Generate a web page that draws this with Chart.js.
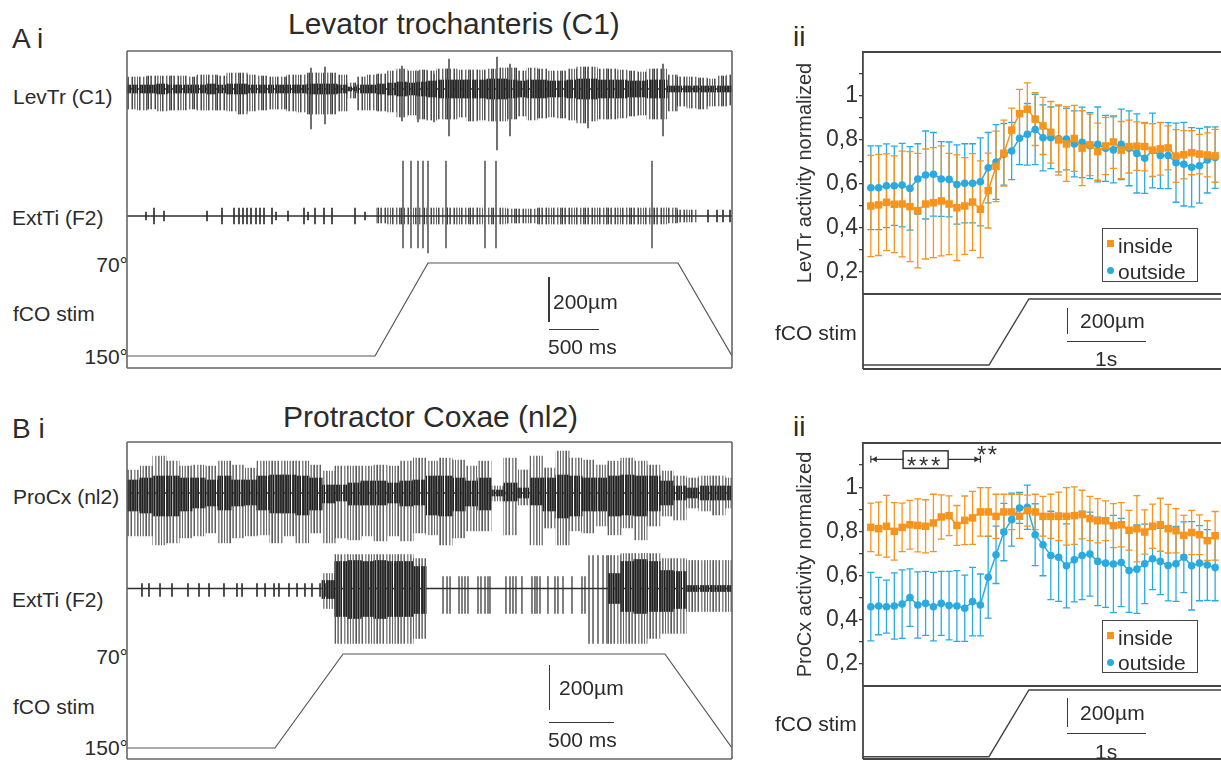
<!DOCTYPE html>
<html>
<head>
<meta charset="utf-8">
<script src="https://cdn.jsdelivr.net/npm/chart.js@4.4.1/dist/chart.umd.min.js"></script>
<style>
  body { margin: 0; width: 1221px; height: 760px; overflow: hidden; background: #fff; position: relative;
         font-family: "Liberation Sans", Arial, sans-serif; color: #2b2b2b; }
  .t { position: absolute; line-height: 1; white-space: nowrap; font-size: 21px; }
  .r { text-align: right; }
  .big { font-size: 28px; }
  .ttl { font-size: 30px; }
  .cv { position: absolute; }
  .sb { position: absolute; background: #3a3a3a; }
  .lg { position: absolute; border: 1.5px solid #444; box-sizing: border-box; }
  .mk { position: absolute; width: 7px; height: 7px; }
  .star { position: absolute; line-height: 1; font-size: 24px; color: #333; }
</style>
</head>
<body>

<!-- panel A -->
<div class="t big" style="left:12px;top:25px">A i</div>
<div class="t ttl" style="left:288px;top:9px">Levator trochanteris (C1)</div>
<div class="t" style="left:13px;top:86px">LevTr (C1)</div>
<div class="t" style="left:12px;top:207px">ExtTi (F2)</div>
<div class="t r" style="right:1093px;top:254px">70°</div>
<div class="t" style="left:13px;top:303px">fCO stim</div>
<div class="t r" style="right:1093px;top:346px">150°</div>
<canvas id="cA" class="cv" width="609" height="321" style="left:125px;top:49px"></canvas>
<div class="sb" style="left:548px;top:277px;width:1.5px;height:45px"></div>
<div class="t" style="left:553px;top:291px">200µm</div>
<div class="sb" style="left:549px;top:328.5px;width:50px;height:1.3px"></div>
<div class="t" style="left:548px;top:336px">500 ms</div>

<div class="t big" style="left:793px;top:23px">ii</div>
<canvas id="cA2" class="cv" width="461" height="252" style="left:760px;top:42px"></canvas>
<canvas id="cA2s" class="cv" width="362" height="79" style="left:861px;top:292px"></canvas>
<div class="t" style="left:775px;top:322px">fCO stim</div>
<div class="sb" style="left:1066.5px;top:308px;width:1.5px;height:26px"></div>
<div class="t" style="left:1080px;top:310px">200µm</div>
<div class="sb" style="left:1067px;top:340.5px;width:79px;height:1.3px"></div>
<div class="t" style="left:1095px;top:348px">1s</div>
<div class="lg" style="left:1101.5px;top:228px;width:96px;height:54px"></div>
<div class="mk" style="left:1107px;top:240px;background:#f7941d"></div>
<div class="t" style="left:1118px;top:235px">inside</div>
<div class="mk" style="left:1107px;top:266.5px;background:#29abe2;border-radius:50%"></div>
<div class="t" style="left:1118px;top:261px">outside</div>

<!-- panel B -->
<div class="t big" style="left:12px;top:415px">B i</div>
<div class="t ttl" style="left:283px;top:402px">Protractor Coxae (nl2)</div>
<div class="t" style="left:13px;top:486px">ProCx (nl2)</div>
<div class="t" style="left:12px;top:589px">ExtTi (F2)</div>
<div class="t r" style="right:1093px;top:646px">70°</div>
<div class="t" style="left:13px;top:696px">fCO stim</div>
<div class="t r" style="right:1093px;top:737px">150°</div>
<canvas id="cB" class="cv" width="609" height="321" style="left:125px;top:440px"></canvas>
<div class="sb" style="left:548.5px;top:665px;width:1.5px;height:45px"></div>
<div class="t" style="left:559px;top:677px">200µm</div>
<div class="sb" style="left:549px;top:721.5px;width:65px;height:1.3px"></div>
<div class="t" style="left:548px;top:729px">500 ms</div>

<div class="t big" style="left:793px;top:413px">ii</div>
<canvas id="cB2" class="cv" width="461" height="253" style="left:760px;top:433px"></canvas>
<canvas id="cB2s" class="cv" width="362" height="77" style="left:861px;top:684px"></canvas>
<div class="t" style="left:775px;top:713px">fCO stim</div>
<div class="sb" style="left:1066.5px;top:698px;width:1.5px;height:29px"></div>
<div class="t" style="left:1080px;top:702px">200µm</div>
<div class="sb" style="left:1067px;top:732.5px;width:79px;height:1.3px"></div>
<div class="t" style="left:1095px;top:741px">1s</div>
<div class="lg" style="left:1101.5px;top:620px;width:96px;height:53px"></div>
<div class="mk" style="left:1107px;top:632px;background:#f7941d"></div>
<div class="t" style="left:1118px;top:627px">inside</div>
<div class="mk" style="left:1107px;top:659px;background:#29abe2;border-radius:50%"></div>
<div class="t" style="left:1118px;top:652px">outside</div>
<div class="star" style="left:907px;top:454px;letter-spacing:2.7px">***</div>
<div class="star" style="left:977px;top:443px;letter-spacing:1.5px">**</div>

<script>
const FONT = '"Liberation Sans", Arial, sans-serif';
const ORANGE = '#f7941d';
const BLUE = '#29abe2';
Chart.defaults.font.family = FONT;

// ---------- recordings (i panels), 100 ms bins, amplitudes in trace units ----------
const binMs = 100;
const spanA = 6050;
const spanB = 4654;

const levTrUp = [12,12,13,13,13,13,12,14,14,13, 16,16,14,13,12,12,14,14,16,16, 16,14,6,12,14,15,18,20,18,19,
                 18,20,20,19,19,19,20,21,21,18, 21,20,18,18,20,22,22,20,20,19, 18,17,20,20,14,12,12,11,10,13, 14];
const levTrDown = [20,21,20,22,21,21,20,21,21,21, 22,25,22,21,20,20,22,23,25,25, 25,22,9,21,21,22,23,28,26,30,
                   31,30,30,28,32,31,32,32,30,27, 31,29,28,29,31,34,32,30,30,29, 27,26,30,30,22,17,19,20,17,17, 16];
const levTrCore = [4,4,4,5,4,4,4,4,5,4, 5,5,4,4,4,4,4,4,5,5, 5,4,2,4,4,5,6,7,6,7,
                   8,9,9,9,9,9,10,10,9,8, 9,9,8,8,9,10,10,9,9,9, 8,8,9,9,3,3,3,3,3,3, 3];
const levTrSpikeMs = [1840, 1980, 2750, 2910, 3070, 3220, 3700, 3830, 4610, 5360];
const levTrSpikeUp = [21, 22, 23, 18, 15, 30, 32, 25, 20, 25];
const levTrSpikeDown = [40, 35, 32, 33, 33, 47, 61, 47, 39, 47];

const extAUp = [0,0,0,0,0,0,0,0,0,0, 0,0,0,0,0,0,0,0,0,0, 0,0,0,0,0,8,8,8,8,8,
                8,8,8,8,8,8,8,8,7,7, 7,8,8,8,8,8,8,8,8,8, 8,8,8,8,8,6,6,0,0,0, 0];
const extADown = [0,0,0,0,0,0,0,0,0,0, 0,0,0,0,0,0,0,0,0,0, 0,0,0,0,0,7,8,8,8,8,
                  8,8,8,8,8,8,8,8,7,7, 7,8,8,8,8,8,8,8,8,8, 8,8,8,8,7,6,6,0,0,0, 0];
const extASmallMs = [190,270,370,800,950,1070,1120,1160,1200,1240,1290,1330,1370,1450,
                     1490,1610,1770,1810,1880,1970,2050,2280,2380,5810,5900,5960,6030];
const extASmallAmp = [4,8,5,5,8,8,8,8,8,8,8,8,8,8,4,5,8,4,8,8,8,8,4,6,6,6,6];
const extABigMs = [2760, 2840, 2910, 2960, 3010, 3190, 3580, 3690, 5250];
const extABigUp = [55, 55, 55, 55, 55, 55, 55, 55, 55];
const extABigDown = [32, 32, 32, 32, 37, 32, 32, 32, 32];

const proCxUp = [23,27,37,32,27,28,27,32,28,25, 32,32,32,32,28,22,27,27,27,28, 27,32,35,32,35,33,27,32,7,35,
                 23,37,25,42,35,33,28,32,35,32, 28,22,17,15,17,17,15];
const proCxDown = [43,43,52,50,45,43,40,50,45,43, 42,50,43,50,40,50,45,47,43,48, 43,48,40,42,52,45,38,38,8,42,
                   12,52,35,52,38,40,33,42,35,47, 33,23,27,15,18,22,15];
const proCxCoreUp = [13,15,17,17,15,15,13,17,13,13, 17,18,18,17,15,8,8,10,12,12, 10,12,13,17,17,15,12,15,3,10,
                     5,15,15,18,17,15,15,17,18,17, 17,12,7,5,7,7,7];
const proCxCoreDown = [18,20,23,23,18,15,13,17,13,12, 17,20,20,22,17,10,8,12,12,12, 10,13,12,22,23,18,13,17,3,8,
                       5,12,18,25,23,18,18,23,22,23, 18,12,7,5,7,7,7];

const extBUp = [0,0,0,0,0,0,0,0,0,0, 0,0,0,0,0,15,34,34,34,34, 34,34,30,0,0,0,0,0,0,0,
                0,0,0,0,0,0,0,33,35,35, 35,30,30,28,28,28,28];
const extBDown = [0,0,0,0,0,0,0,0,0,0, 0,0,0,0,0,20,55,55,55,55, 55,55,50,0,0,0,0,0,0,0,
                  0,0,0,0,0,0,0,55,55,55, 50,45,45,23,23,23,23];
const extBCoreUp = [0,0,0,0,0,0,0,0,0,0, 0,0,0,0,0,8,27,28,27,28, 27,27,22,0,0,0,0,0,0,0,
                    0,0,0,0,0,0,0,15,27,29, 27,18,17,3,3,3,3];
const extBCoreDown = [0,0,0,0,0,0,0,0,0,0, 0,0,0,0,0,10,28,30,28,30, 28,28,25,0,0,0,0,0,0,0,
                      0,0,0,0,0,0,0,15,23,25, 23,23,20,3,3,3,3];
const extBTickMs = [115,169,254,346,469,554,631,746,846,885,1000,1062,1131,1169,1246,1308,1369,1423,1485,1531];
const extBSparseMs = [2431,2462,2485,2554,2577,2600,2623,2700,2723,2754,2777,2792,2915,2946,
                      2969,2992,3038,3115,3138,3154,3177,3238,3292,3315,3354,3423,3500,3523];
const extBTallMs = [3554, 3585, 3623, 3662, 3692, 3723];

// fCO stimulus (ms, degrees)
const stimMsA = [0, 2480, 3010, 5510, 6050];
const stimMsB = [0, 1138, 1662, 4138, 4654];
const stimDeg = [150, 150, 70, 70, 150];

// ---------- normalized activity (ii panels) ----------
const binSec = [0.1,0.2,0.3,0.4,0.5,0.6,0.7,0.8,0.9,1.0,1.1,1.2,1.3,1.4,1.5,1.6,1.7,1.8,1.9,2.0,2.1,2.2,2.3,
                2.4,2.5,2.6,2.7,2.8,2.9,3.0,3.1,3.2,3.3,3.4,3.5,3.6,3.7,3.8,3.9,4.0,4.1,4.2,4.3,4.4,4.5];
const levInside = [0.50,0.505,0.517,0.508,0.509,0.497,0.479,0.509,0.515,0.523, 0.509,0.492,0.50,0.518,0.485,0.57,0.68,0.74,0.845,0.92,
                   0.94,0.895,0.864,0.835,0.80,0.782,0.807,0.763,0.778,0.747, 0.773,0.791,0.754,0.77,0.772,0.77,0.754,0.76,0.764,0.727,
                   0.733,0.742,0.736,0.732,0.728];
const levInsideErr = [0.23,0.23,0.22,0.22,0.24,0.25,0.26,0.25,0.25,0.25, 0.23,0.24,0.22,0.22,0.22,0.17,0.16,0.15,0.10,0.11,
                      0.12,0.12,0.13,0.14,0.16,0.17,0.15,0.17,0.14,0.13, 0.13,0.12,0.13,0.12,0.11,0.11,0.12,0.12,0.10,0.12,
                      0.11,0.10,0.09,0.10,0.12];
const levOutside = [0.583,0.583,0.592,0.592,0.595,0.58,0.623,0.641,0.644,0.623, 0.621,0.598,0.603,0.603,0.61,0.674,0.70,0.735,0.75,0.808,
                    0.826,0.848,0.81,0.81,0.805,0.804,0.782,0.789,0.774,0.78, 0.762,0.755,0.78,0.762,0.739,0.717,0.752,0.729,0.729,0.697,
                    0.69,0.676,0.683,0.709,0.72];
const levOutsideErr = [0.19,0.19,0.19,0.18,0.19,0.19,0.16,0.20,0.19,0.17, 0.17,0.18,0.18,0.18,0.20,0.16,0.17,0.14,0.13,0.12,
                       0.14,0.16,0.15,0.14,0.15,0.14,0.15,0.16,0.15,0.17, 0.15,0.15,0.16,0.17,0.18,0.16,0.17,0.15,0.15,0.18,
                       0.19,0.18,0.17,0.15,0.14];
const proInside = [0.818,0.812,0.823,0.80,0.818,0.83,0.827,0.823,0.838,0.865, 0.871,0.827,0.85,0.861,0.888,0.888,0.868,0.888,0.888,0.868,
                   0.894,0.888,0.868,0.868,0.868,0.868,0.871,0.876,0.858,0.848, 0.848,0.826,0.83,0.805,0.812,0.797,0.823,0.83,0.812,0.803,
                   0.782,0.795,0.785,0.758,0.78];
const proInsideErr = [0.11,0.12,0.14,0.13,0.11,0.11,0.12,0.12,0.13,0.10, 0.09,0.09,0.11,0.12,0.11,0.11,0.10,0.08,0.08,0.10,
                      0.07,0.08,0.09,0.10,0.11,0.13,0.13,0.11,0.10,0.10, 0.09,0.10,0.10,0.09,0.15,0.10,0.10,0.12,0.11,0.10,
                      0.09,0.10,0.09,0.09,0.11];
const proOutside = [0.459,0.462,0.459,0.462,0.471,0.50,0.467,0.474,0.459,0.474, 0.464,0.462,0.452,0.482,0.467,0.592,0.694,0.797,0.853,0.906,
                    0.909,0.785,0.739,0.691,0.683,0.644,0.671,0.691,0.697,0.664, 0.656,0.652,0.659,0.623,0.629,0.653,0.676,0.664,0.645,0.653,
                    0.683,0.644,0.656,0.648,0.636];
const proOutsideErr = [0.155,0.13,0.12,0.15,0.155,0.13,0.15,0.145,0.155,0.145, 0.155,0.16,0.15,0.155,0.14,0.185,0.13,0.13,0.12,0.07,
                       0.10,0.14,0.14,0.20,0.20,0.19,0.19,0.20,0.19,0.20, 0.20,0.22,0.20,0.19,0.20,0.18,0.14,0.15,0.16,0.17,
                       0.16,0.20,0.17,0.16,0.15];
const stimSecII = [0, 1.61, 2.12, 4.575];
const stimDegII = [150, 150, 70, 70];
const sigRangeSec = [0.1, 1.5];

// ---------- plugins ----------
const framePlugin = {
    id: 'frame',
    afterDraw(chart, args, opts) {
        if (!opts.sides) return;
        const a = chart.chartArea, ctx = chart.ctx;
        ctx.save();
        ctx.strokeStyle = opts.color;
        ctx.lineWidth = opts.width;
        ctx.beginPath();
        if (opts.sides.includes('top')) { ctx.moveTo(a.left, a.top); ctx.lineTo(a.right, a.top); }
        if (opts.sides.includes('bottom')) { ctx.moveTo(a.left, a.bottom); ctx.lineTo(a.right, a.bottom); }
        if (opts.sides.includes('left')) { ctx.moveTo(a.left, a.top); ctx.lineTo(a.left, a.bottom); }
        if (opts.sides.includes('right')) { ctx.moveTo(a.right, a.top); ctx.lineTo(a.right, a.bottom); }
        ctx.stroke();
        ctx.restore();
    }
};

const errorBarPlugin = {
    id: 'errbars',
    beforeDatasetsDraw(chart) {
        const ctx = chart.ctx, xs = chart.scales.x, ys = chart.scales.y;
        for (let i = chart.data.datasets.length - 1; i >= 0; i--) {
            const ds = chart.data.datasets[i];
            if (!ds.errors) continue;
            ctx.save();
            ctx.strokeStyle = ds.borderColor;
            ctx.lineWidth = 1.3;
            ctx.beginPath();
            ds.data.forEach((p, j) => {
                const x = xs.getPixelForValue(p.x);
                const lo = ys.getPixelForValue(p.y - ds.errors[j]);
                const hi = ys.getPixelForValue(p.y + ds.errors[j]);
                ctx.moveTo(x, lo); ctx.lineTo(x, hi);
                ctx.moveTo(x - 3.5, lo); ctx.lineTo(x + 3.5, lo);
                ctx.moveTo(x - 3.5, hi); ctx.lineTo(x + 3.5, hi);
            });
            ctx.stroke();
            ctx.restore();
        }
    }
};

const sigPlugin = {
    id: 'sig',
    afterDatasetsDraw(chart, args, o) {
        if (!o.range) return;
        const ctx = chart.ctx, xs = chart.scales.x, ys = chart.scales.y;
        const x1 = xs.getPixelForValue(o.range[0]), x2 = xs.getPixelForValue(o.range[1]);
        const y = ys.getPixelForValue(o.level);
        ctx.save();
        ctx.strokeStyle = '#333';
        ctx.fillStyle = '#333';
        ctx.lineWidth = 1.2;
        ctx.beginPath();
        ctx.moveTo(x1, y); ctx.lineTo(x2, y);
        ctx.moveTo(x1, y - 3.5); ctx.lineTo(x1, y + 3.5);
        ctx.moveTo(x2, y - 3.5); ctx.lineTo(x2, y + 3.5);
        ctx.stroke();
        ctx.beginPath();
        ctx.moveTo(x1 + 1, y); ctx.lineTo(x1 + 6, y - 3); ctx.lineTo(x1 + 6, y + 3); ctx.closePath();
        ctx.moveTo(x2 - 1, y); ctx.lineTo(x2 - 6, y - 3); ctx.lineTo(x2 - 6, y + 3); ctx.closePath();
        ctx.fill();
        const mid = (x1 + x2) / 2;
        ctx.fillStyle = '#fff';
        ctx.fillRect(mid - 22.5, y - 8.5, 45, 17.5);
        ctx.lineWidth = 1.5;
        ctx.strokeRect(mid - 22.5, y - 8.5, 45, 17.5);
        ctx.restore();
    }
};

Chart.register(framePlugin, errorBarPlugin, sigPlugin);

// ---------- helpers ----------
// irregular stripe tiles give the filled envelopes a spiky texture
const fringeTile = ['#3c3c3c', null, '#8c8c8c', '#5a5a5a', null, null, '#a0a0a0', '#4a4a4a', null, '#787878', '#b0b0b0', null,
                    '#646464', null, '#4e4e4e', '#9a9a9a', null, null, '#6a6a6a', '#c0c0c0', null, '#555555', '#888888'];
const lightTile = ['#5a5a5a', null, '#9a9a9a', '#7a7a7a', null, '#b0b0b0', '#606060', null, null, '#8a8a8a', '#c0c0c0', null,
                   '#707070', '#a4a4a4', null, '#666666', null, '#b8b8b8', '#7e7e7e', null, '#949494'];
const coreTile = ['#1e1e1e', '#5e5e5e', '#2c2c2c', '#3a3a3a', '#444444', '#202020', null, '#333333', '#262626', '#505050',
                  '#2a2a2a', '#6a6a6a', '#1a1a1a', null, '#3e3e3e', '#242424', '#585858'];

function pattern(ctx, tile) {
    const c = document.createElement('canvas');
    c.width = tile.length;
    c.height = 1;
    const g = c.getContext('2d');
    tile.forEach((col, i) => {
        if (col) { g.fillStyle = col; g.fillRect(i, 0, 1, 1); }
    });
    return ctx.createPattern(c, 'repeat');
}

function envelope(up, down, off) {
    const out = [];
    up.forEach((u, i) => {
        const d = down[i];
        if (u || d) out.push({ x: i * binMs + binMs / 2, y: [off - d, off + u] });
    });
    return out;
}

function spikeBars(ms, up, down, off) {
    return ms.map((t, i) => {
        const u = Array.isArray(up) ? up[i] : up;
        const d = Array.isArray(down) ? down[i] : down;
        return { x: t, y: [off - d, off + u] };
    });
}

// reversed degree axis so 70° and 150° land on the wanted rows of the box
function stimRange(pxHigh, pxLow, h) {
    const k = 80 / (pxLow - pxHigh);
    return { min: 70 - pxHigh * k, max: 70 + (h - pxHigh) * k };
}

function tracePanel(id, span, traces, stimMs, stimRows) {
    const canvas = document.getElementById(id);
    const ctx = canvas.getContext('2d');
    const w = canvas.width - 4, h = canvas.height - 4;
    const binPx = w * binMs / span + 0.4;
    const datasets = [];
    traces.forEach(tr => {
        datasets.push({
            type: 'bar', data: envelope(tr.up, tr.down, tr.off), backgroundColor: pattern(ctx, tr.tile),
            barThickness: binPx, grouped: false, borderWidth: 0, order: 4
        });
        tr.spikes.forEach(s => datasets.push({
            type: 'bar', data: spikeBars(s.ms, s.up, s.down, tr.off), backgroundColor: s.color,
            barThickness: 1.2, grouped: false, borderWidth: 0, order: 3
        }));
        datasets.push({
            type: 'line', data: [{ x: 0, y: tr.off }, { x: span, y: tr.off }], borderColor: '#2e2e2e',
            borderWidth: 1.3, pointRadius: 0, order: 2
        });
        if (tr.coreUp) datasets.push({
            type: 'bar', data: envelope(tr.coreUp, tr.coreDown, tr.off), backgroundColor: pattern(ctx, coreTile),
            barThickness: binPx, grouped: false, borderWidth: 0, order: 1
        });
    });
    datasets.push({
        type: 'line', yAxisID: 'yStim', data: stimMs.map((t, i) => ({ x: t, y: stimDeg[i] })),
        borderColor: '#555', borderWidth: 1.2, pointRadius: 0, order: 0
    });
    const r = stimRange(stimRows[0], stimRows[1], h);
    new Chart(ctx, {
        type: 'bar',
        data: { datasets },
        options: {
            responsive: false,
            animation: false,
            events: [],
            layout: { padding: 2, autoPadding: false },
            plugins: {
                legend: { display: false },
                tooltip: { enabled: false },
                frame: { sides: ['top', 'right', 'bottom', 'left'], color: '#666', width: 1.6 }
            },
            scales: {
                x: { type: 'linear', min: 0, max: span, offset: false, display: false },
                y: { min: 0, max: h, display: false },
                yStim: { min: r.min, max: r.max, reverse: true, display: false }
            }
        }
    });
}

function points(values) {
    return binSec.map((t, i) => ({ x: t, y: values[i] }));
}

function activityPanel(id, inside, inErr, outside, outErr, title, sig) {
    new Chart(document.getElementById(id), {
        type: 'line',
        data: {
            datasets: [
                { label: 'inside', data: points(inside), errors: inErr, borderColor: ORANGE, backgroundColor: ORANGE,
                  borderWidth: 1.5, pointStyle: 'rect', pointRadius: 5.3, pointBorderWidth: 0, order: 0 },
                { label: 'outside', data: points(outside), errors: outErr, borderColor: BLUE, backgroundColor: BLUE,
                  borderWidth: 1.5, pointStyle: 'circle', pointRadius: 3.8, pointBorderWidth: 0, order: 1 }
            ]
        },
        options: {
            responsive: false,
            animation: false,
            events: [],
            layout: { padding: { top: 10, left: 0, right: 0, bottom: 0 }, autoPadding: false },
            plugins: {
                legend: { display: false },
                tooltip: { enabled: false },
                frame: { sides: ['top'], color: '#444', width: 1.8 },
                sig: sig || {}
            },
            scales: {
                x: { type: 'linear', min: 0, max: 4.575, display: false },
                y: {
                    min: 0.1, max: 1.2,
                    afterFit: s => { s.width = 103; s.paddingTop = 0; s.paddingBottom = 0; },
                    border: { display: true, color: '#444', width: 1.8 },
                    grid: { drawOnChartArea: false, drawTicks: true, tickLength: 4, color: '#444', lineWidth: 1.3 },
                    ticks: {
                        stepSize: 0.1, padding: 1, autoSkip: false, color: '#333',
                        font: { size: 23, family: FONT },
                        callback: v => {
                            const k = Math.round(v * 10);
                            if (k <= 1 || k >= 12) return null;
                            if (k % 2) return '';
                            return k === 10 ? '1' : '0,' + k;
                        }
                    },
                    title: { display: true, text: title, color: '#333', font: { size: 20, family: FONT }, padding: { top: 33, bottom: 0 } }
                }
            }
        }
    });
}

function stimPanel(id, rows) {
    const canvas = document.getElementById(id);
    const h = canvas.height - 4;
    const r = stimRange(rows[0], rows[1], h);
    new Chart(canvas, {
        type: 'line',
        data: { datasets: [{ data: stimSecII.map((t, i) => ({ x: t, y: stimDegII[i] })), borderColor: '#444', borderWidth: 1.4, pointRadius: 0 }] },
        options: {
            responsive: false,
            animation: false,
            events: [],
            layout: { padding: 2, autoPadding: false },
            plugins: {
                legend: { display: false },
                tooltip: { enabled: false },
                frame: { sides: ['top', 'left', 'bottom'], color: '#444', width: 1.8 }
            },
            scales: {
                x: { type: 'linear', min: 0, max: 4.575, display: false },
                y: { min: r.min, max: r.max, reverse: true, display: false }
            }
        }
    });
}

// ---------- build ----------
tracePanel('cA', spanA, [
    { off: 279, up: levTrUp, down: levTrDown, coreUp: levTrCore, coreDown: levTrCore, tile: fringeTile,
      spikes: [{ ms: levTrSpikeMs, up: levTrSpikeUp, down: levTrSpikeDown, color: '#666' }] },
    { off: 152, up: extAUp, down: extADown, tile: fringeTile,
      spikes: [{ ms: extASmallMs, up: extASmallAmp, down: extASmallAmp, color: '#444' },
               { ms: extABigMs, up: extABigUp, down: extABigDown, color: '#707070' }] }
], stimMsA, [212, 305]);

tracePanel('cB', spanB, [
    { off: 266, up: proCxUp, down: proCxDown, coreUp: proCxCoreUp, coreDown: proCxCoreDown, tile: lightTile, spikes: [] },
    { off: 170.5, up: extBUp, down: extBDown, coreUp: extBCoreUp, coreDown: extBCoreDown, tile: lightTile,
      spikes: [{ ms: extBTickMs, up: 5, down: 8, color: '#444' },
               { ms: extBSparseMs, up: 12, down: 25, color: '#777' },
               { ms: extBTallMs, up: 33, down: 55, color: '#777' }] }
], stimMsB, [212, 306]);

activityPanel('cA2', levInside, levInsideErr, levOutside, levOutsideErr, 'LevTr activity normalized');
activityPanel('cB2', proInside, proInsideErr, proOutside, proOutsideErr, 'ProCx activity normalized',
              { range: sigRangeSec, level: 1.126 });
stimPanel('cA2s', [5, 71]);
stimPanel('cB2s', [4, 70.7]);
</script>
</body>
</html>
